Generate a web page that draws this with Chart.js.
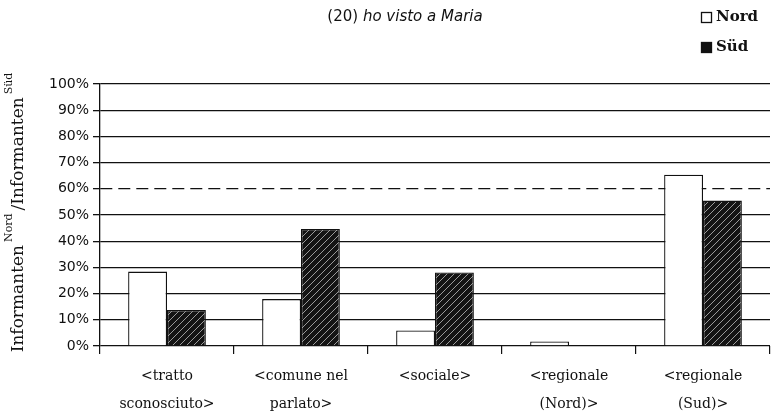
<!DOCTYPE html>
<html lang="it">
<head>
<meta charset="UTF-8" />
<title>(20) ho visto a Maria</title>
<script src="https://cdn.jsdelivr.net/npm/chart.js"></script>
<style>
  html, body { margin: 0; padding: 0; background: #fff; }
  #wrap { width: 774px; height: 413px; position: relative; }
</style>
</head>
<body>
<div id="wrap"><canvas id="chart" width="774" height="413"></canvas></div>
<script>
  // categorie (due righe per etichetta)
  const categories = [
    ["<tratto", "sconosciuto>"],
    ["<comune nel", "parlato>"],
    ["<sociale>", ""],
    ["<regionale", "(Nord)>"],
    ["<regionale", "(Sud)>"]
  ];
  const nordValues = [28.4, 17.9, 5.9, 1.7, 65.4];
  const sudValues = [13.7, 44.7, 28.1, 0, 55.5];
  const yTicks = [0, 10, 20, 30, 40, 50, 60, 70, 80, 90, 100];
  const seriesNames = ["Nord", "Süd"];

  // tratteggio per la serie Süd
  function makeHatch() {
    const n = 7;
    const c = document.createElement("canvas");
    c.width = n; c.height = n;
    const g = c.getContext("2d");
    g.fillStyle = "#141414";
    g.fillRect(0, 0, n, n);
    g.strokeStyle = "#9a9a9a";
    g.lineWidth = 1;
    g.beginPath();
    g.moveTo(0, n); g.lineTo(n, 0);
    g.moveTo(-1, 1); g.lineTo(1, -1);
    g.moveTo(n - 1, n + 1); g.lineTo(n + 1, n - 1);
    g.stroke();
    return g.createPattern(c, "repeat");
  }
  const hatch = makeHatch();

  // titolo, legenda e titolo asse y disegnati a mano
  const extraText = {
    id: "extraText",
    afterDraw(chart) {
      const ctx = chart.ctx;
      ctx.save();
      ctx.fillStyle = "#111";
      ctx.textBaseline = "middle";

      // titolo
      const a = "(20) ";
      const b = "ho visto a Maria";
      ctx.font = "italic 15px 'DejaVu Sans'";
      const wb = ctx.measureText(b).width;
      ctx.font = "15px 'DejaVu Sans'";
      const wa = ctx.measureText(a).width;
      let x = 405 - (wa + wb) / 2;
      ctx.textAlign = "left";
      ctx.fillText(a, x, 17);
      ctx.font = "italic 15px 'DejaVu Sans'";
      ctx.fillText(b, x + wa, 17);

      // legenda
      ctx.lineWidth = 1.3;
      ctx.strokeStyle = "#111";
      ctx.fillStyle = "#fff";
      ctx.fillRect(701.5, 12.5, 10, 10);
      ctx.strokeRect(701.5, 12.5, 10, 10);
      ctx.fillStyle = "#111";
      ctx.fillRect(701.5, 42.5, 10, 10);
      ctx.strokeRect(701.5, 42.5, 10, 10);
      ctx.font = "bold 15px 'DejaVu Serif'";
      ctx.fillText(seriesNames[0], 716, 17);
      ctx.fillText(seriesNames[1], 716, 47);

      // titolo asse y con apici
      const parts = [
        ["Informanten", false], ["Nord", true],
        ["/Informanten", false], ["Süd", true]
      ];
      const big = "17px 'DejaVu Serif'";
      const small = "11px 'DejaVu Serif'";
      let total = 0;
      parts.forEach(p => {
        ctx.font = p[1] ? small : big;
        total += ctx.measureText(p[0]).width + (p[1] ? 6 : 0);
      });
      ctx.translate(19, 211);
      ctx.rotate(-Math.PI / 2);
      let px = -total / 2;
      parts.forEach(p => {
        ctx.font = p[1] ? small : big;
        if (p[1]) px += 3;
        ctx.fillText(p[0], px, p[1] ? -10 : 0);
        px += ctx.measureText(p[0]).width + (p[1] ? 3 : 0);
      });
      ctx.restore();
    }
  };

  const chart = new Chart(document.getElementById("chart"), {
    type: "bar",
    data: {
      labels: categories,
      datasets: [
        {
          label: seriesNames[0],
          data: nordValues,
          backgroundColor: "#fff",
          borderColor: "#111",
          borderWidth: 1.3
        },
        {
          label: seriesNames[1],
          data: sudValues,
          backgroundColor: hatch,
          borderColor: "#111",
          borderWidth: 1.3
        }
      ]
    },
    options: {
      responsive: false,
      animation: false,
      layout: { padding: { top: 84, right: 4, left: 0, bottom: 0 } },
      plugins: {
        legend: { display: false },
        title: { display: false },
        tooltip: { enabled: false }
      },
      datasets: {
        bar: { categoryPercentage: 0.58, barPercentage: 1.0 }
      },
      scales: {
        x: {
          afterFit: s => { s.height = 67; },
          grid: {
            offset: true,
            drawOnChartArea: false,
            color: "#111",
            tickLength: 8,
            lineWidth: 1.2
          },
          border: { display: false },
          ticks: {
            color: "#111",
            padding: 9,
            maxRotation: 0,
            font: { family: "'DejaVu Serif'", size: 14, lineHeight: 1.95 }
          }
        },
        y: {
          min: 0,
          max: 100,
          afterFit: s => { s.width = 100; },
          afterBuildTicks: s => { s.ticks = yTicks.map(v => ({ value: v })); },
          grid: {
            color: "#111",
            lineWidth: 1.3,
            tickLength: 7
          },
          border: {
            color: "#111",
            width: 1.3,
            dash: ctx => (ctx.tick && ctx.tick.value === 60 ? [12, 6] : [])
          },
          ticks: {
            color: "#111",
            padding: 4,
            font: { family: "'DejaVu Sans'", size: 14 },
            callback: v => v + "%"
          }
        }
      }
    },
    plugins: [extraText]
  });
</script>
</body>
</html>
